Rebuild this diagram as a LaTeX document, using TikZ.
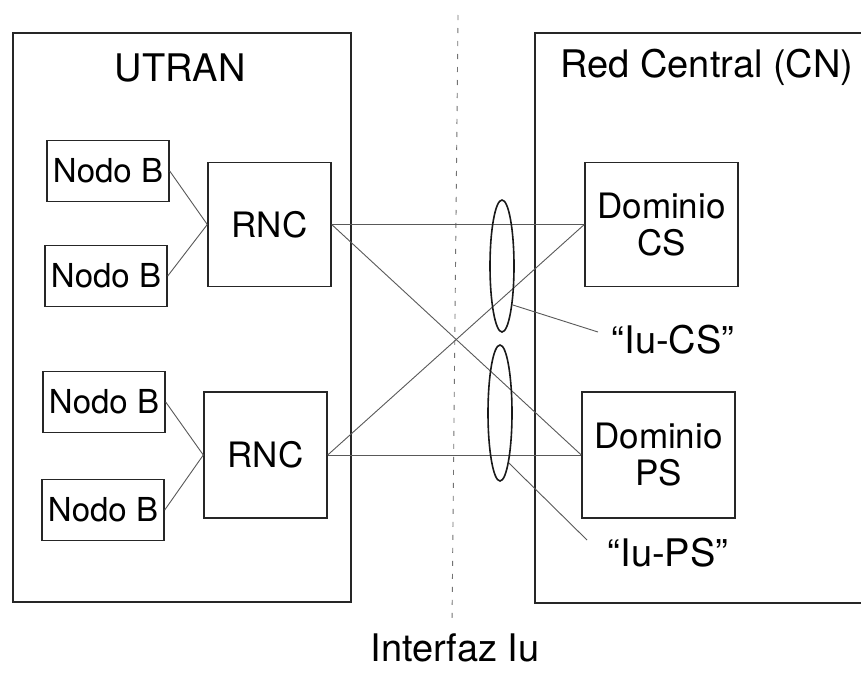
\documentclass[tikz,border=0pt]{standalone}
\usepackage{fontspec}
\setmainfont{TeX Gyre Heros}
\usetikzlibrary{shapes.geometric}
\tikzset{
  frame/.style={draw=black!85, line width=1.6pt, inner sep=0pt},
  nodob/.style={draw=black!85, line width=1.4pt, minimum width=122pt, minimum height=61pt, inner sep=0pt, font=\fontsize{33}{35}\selectfont},
  unit/.style={draw=black!85, line width=1.4pt, minimum width=123pt, minimum height=124pt, inner sep=0pt, align=center, font=\fontsize{35}{37}\selectfont},
  title/.style={inner sep=0pt, font=\fontsize{38}{40}\selectfont},
  link/.style={draw=black!65, line width=0.9pt},
  ring/.style={ellipse, draw=black!90, line width=1.6pt, minimum width=24pt, minimum height=132pt, inner sep=0pt},
  sep/.style={draw=black!55, line width=0.9pt, dash pattern=on 5pt off 8pt}
}
\begin{document}
\begin{tikzpicture}[x=1pt,y=-1pt]
\useasboundingbox (0,0) rectangle (861,675);
\clip (0,0) rectangle (861,675);
\fill[white] (0,0) rectangle (861,675);
% interface line
\coordinate (septop) at (458,15);
\coordinate (sepbot) at (452,622);
\draw[sep] (septop) -- (sepbot);
% containers
\node[frame, minimum width=338pt, minimum height=569pt] (utran) at (182,317.5) {};
\node[frame, minimum width=400pt, minimum height=570pt] (cn) at (735,318) {};
\node[title] (utranlbl) at (180,68) {UTRAN};
\node[title] (cnlbl) at (707,67) {Red Central (CN)};
% Nodo B
\node[nodob] (nb1) at (108,171) {Nodo B};
\node[nodob] (nb2) at (106,276) {Nodo B};
\node[nodob] (nb3) at (104,402) {Nodo B};
\node[nodob] (nb4) at (103,510) {Nodo B};
% RNC
\node[unit] (rnc1) at (269.5,224.5) {RNC};
\node[unit, minimum height=126pt] (rnc2) at (265.5,455) {RNC};
% domains
\node[unit, minimum width=153pt] (cs) at (661.5,224.5) {Dominio\\CS};
\node[unit, minimum width=153pt, minimum height=126pt] (ps) at (658.5,455) {Dominio\\PS};
% links
\draw[link] (nb1.east) -- (rnc1.west);
\draw[link] (nb2.east) -- (rnc1.west);
\draw[link] (nb3.east) -- (rnc2.west);
\draw[link] (nb4.east) -- (rnc2.west);
\draw[link] (rnc1.east) -- (cs.west);
\draw[link] (rnc1.east) -- (ps.west);
\draw[link] (rnc2.east) -- (cs.west);
\draw[link] (rnc2.east) -- (ps.west);
% Iu rings
\node[ring] (e1) at (502,266) {};
\node[ring, minimum height=136pt] (e2) at (500,413) {};
% Iu labels
\node[title] (iucs) at (673,340) {“Iu-CS”};
\node[title] (iups) at (668,553) {“Iu-PS”};
\coordinate (iucsend) at (598,332);
\coordinate (iupsend) at (587,540);
\draw[link] (e1.-75) -- (iucsend);
\draw[link] (e2.-80) -- (iupsend);
% interface label
\node[title] (iface) at (455,648) {Interfaz Iu};
\end{tikzpicture}
\end{document}
